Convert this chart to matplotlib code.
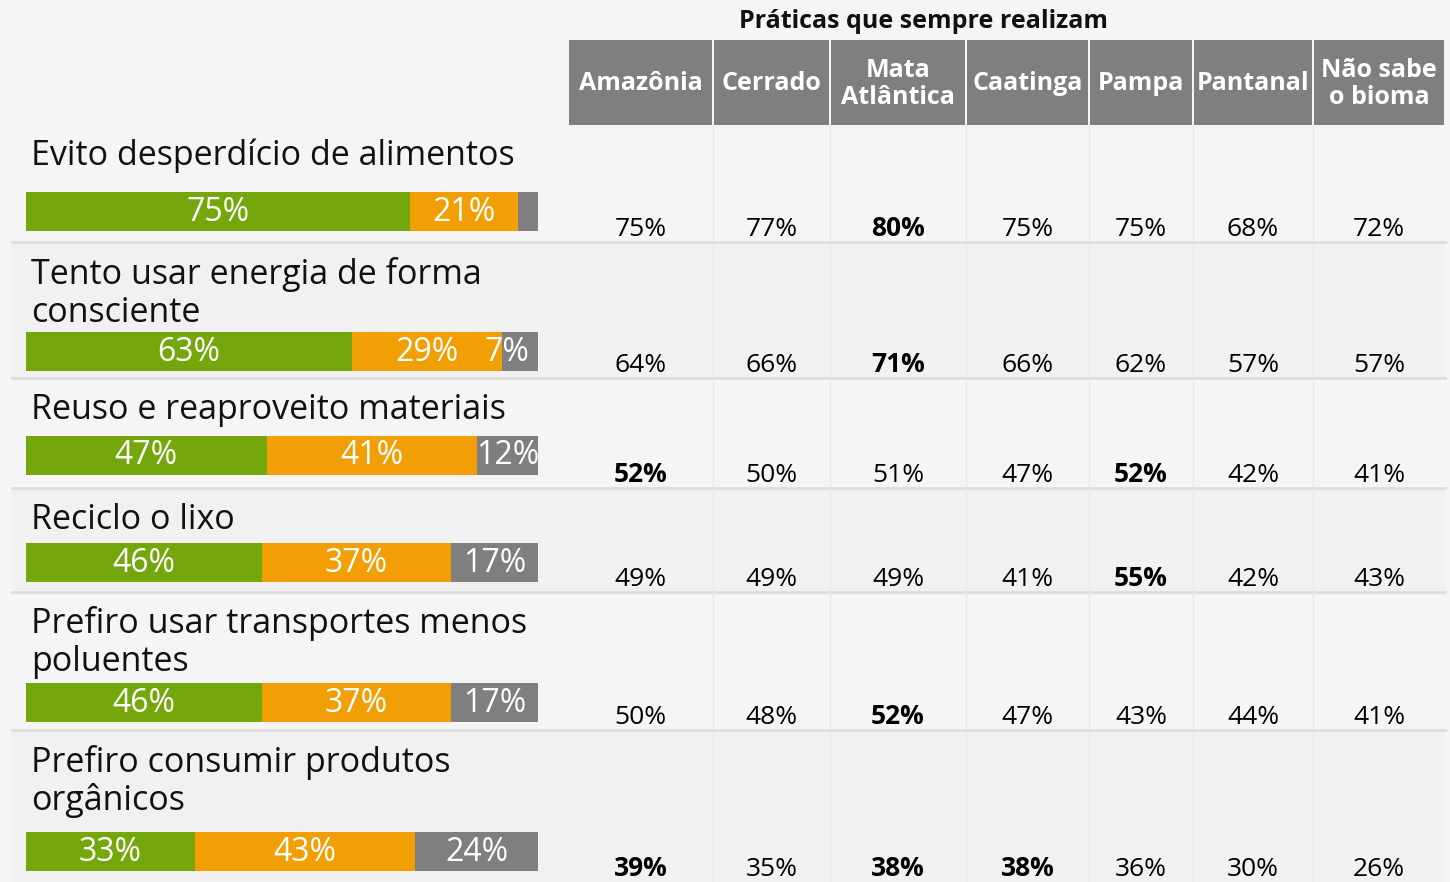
import matplotlib
matplotlib.use("Agg")
from matplotlib import pyplot as plt
from matplotlib.patches import Rectangle

plt.rcParams['font.family'] = ['Open Sans', 'DejaVu Sans']

# data
praticas = ["Evito desperdício de alimentos",
            "Tento usar energia de forma\nconsciente",
            "Reuso e reaproveito materiais",
            "Reciclo o lixo",
            "Prefiro usar transportes menos\npoluentes",
            "Prefiro consumir produtos\norgânicos"]
sempre = [75, 63, 47, 46, 46, 33]
as_vezes = [21, 29, 41, 37, 37, 43]
nunca = [4, 7, 12, 17, 17, 24]
nunca_label = ["", "7%", "12%", "17%", "17%", "24%"]

biomas = ["Amazônia", "Cerrado", "Mata\nAtlântica", "Caatinga", "Pampa",
          "Pantanal", "Não sabe\no bioma"]
tabela = [
    [75, 77, 80, 75, 75, 68, 72],
    [64, 66, 71, 66, 62, 57, 57],
    [52, 50, 51, 47, 52, 42, 41],
    [49, 49, 49, 41, 55, 42, 43],
    [50, 48, 52, 47, 43, 44, 41],
    [39, 35, 38, 38, 36, 30, 26],
]
destaque = [[2], [2], [0, 4], [4], [2], [0, 2, 3]]
titulo = "Práticas que sempre realizam"

# layout (pixels)
W, H = 1450, 882
row_top = [130, 243, 378, 488, 592, 730]
row_bot = [242, 378, 488, 592, 730, 882]
label_base = [[165], [284, 322], [419], [529], [633, 671], [772, 810]]
bar_y = [211.5, 351.5, 455, 562.5, 702.5, 851.5]
col_edges = [568, 713, 830, 966, 1089, 1193, 1313, 1445]

verde = '#74a70b'
laranja = '#f29f05'
cinza = '#7f7f7f'

fig = plt.figure(figsize=(W / 100, H / 100), dpi=100)
fig.patch.set_facecolor('#f5f5f5')

bg = fig.add_axes([0, 0, 1, 1])
bg.set_xlim(0, W)
bg.set_ylim(H, 0)
bg.axis('off')

# shaded rows and separators
for i in range(len(praticas)):
    if i % 2 == 1:
        bg.add_patch(Rectangle((12, row_top[i]), 1445 - 12, row_bot[i] - row_top[i],
                               facecolor='#f1f1f1', edgecolor='none', zorder=0))
    if i < len(praticas) - 1:
        bg.plot([12, 1445], [row_bot[i], row_bot[i]], color='#dddddd', lw=2, zorder=1)

# faint column lines in table body
for x in col_edges[1:-1]:
    bg.plot([x, x], [125, H], color='#e6e6e6', lw=0.8, zorder=1)

# header
bg.text(924, 21, titulo, ha='center', va='center',
        fontsize=18, fontweight='bold', color='#111111')
for j, b in enumerate(biomas):
    x0, x1 = col_edges[j], col_edges[j + 1]
    bg.add_patch(Rectangle((x0 + 1, 40), x1 - x0 - 2, 85, facecolor=cinza,
                           edgecolor='none', zorder=2))
    bg.text((x0 + x1) / 2, 84, b, ha='center', va='center', color='white',
            fontsize=18, fontweight='bold', linespacing=1.15, zorder=3)

# labels and table values
for i, p in enumerate(praticas):
    for k, line in enumerate(p.split("\n")):
        bg.text(31, label_base[i][k], line, ha='left', va='baseline',
                fontsize=24.5, color='#111111')
    for j, v in enumerate(tabela[i]):
        xc = (col_edges[j] + col_edges[j + 1]) / 2
        bold = j in destaque[i]
        bg.text(xc, row_bot[i] - 6, f"{v}%", ha='center', va='baseline',
                fontsize=19, color='black',
                fontweight='bold' if bold else 'normal')

# stacked bars
ax = fig.add_axes([26 / W, 0, 512 / W, 1])
ax.set_xlim(0, 100)
ax.set_ylim(H, 0)
ax.axis('off')
ax.patch.set_alpha(0)

for i in range(len(praticas)):
    total = sempre[i] + as_vezes[i] + nunca[i]
    segs = [sempre[i], as_vezes[i], nunca[i]]
    labels = [f"{sempre[i]}%", f"{as_vezes[i]}%", nunca_label[i]]
    left = 0
    for v, c, lab in zip(segs, [verde, laranja, cinza], labels):
        w = v * 100 / total
        ax.barh(bar_y[i], w, left=left, height=39, color=c, edgecolor='none')
        if lab:
            if w < 10:
                # narrow segment: keep label inside the bar's right edge
                ax.text(left + w - 1.6, bar_y[i] + 1, lab, ha='right', va='center',
                        color='white', fontsize=23)
            else:
                ax.text(left + w / 2, bar_y[i] + 1, lab, ha='center', va='center',
                        color='white', fontsize=23)
        left += w

fig.savefig("out.png", dpi=100, facecolor=fig.get_facecolor())
